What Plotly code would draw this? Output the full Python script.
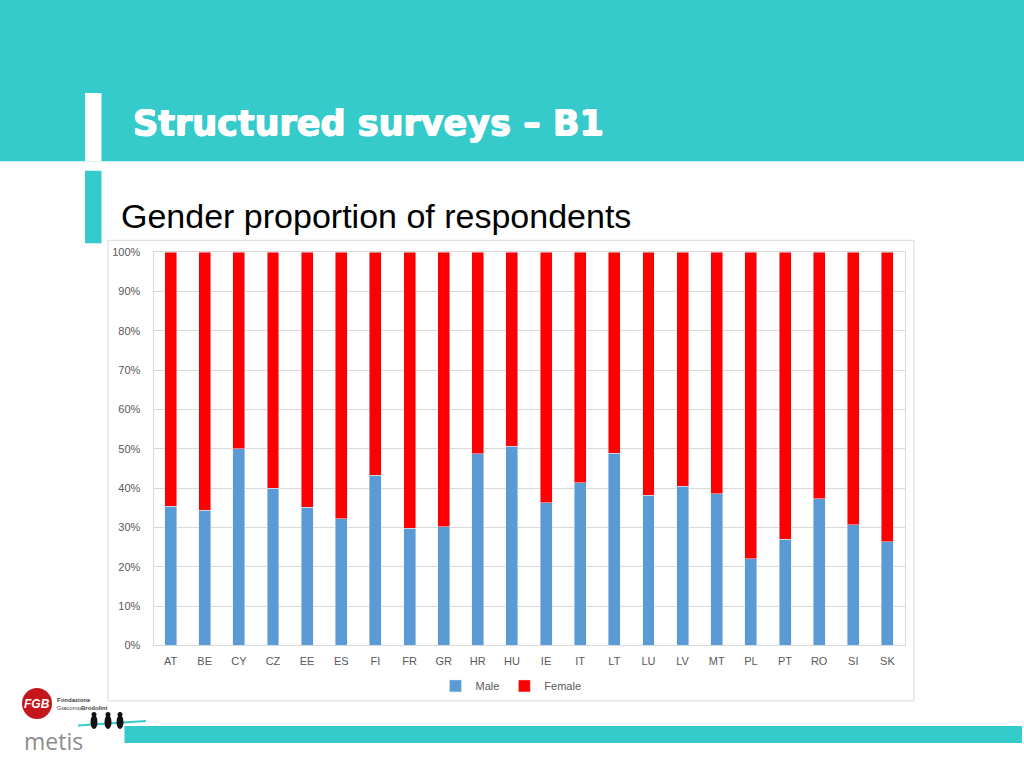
import plotly.graph_objects as go

countries = ["AT", "BE", "CY", "CZ", "EE", "ES", "FI", "FR", "GR", "HR", "HU",
             "IE", "IT", "LT", "LU", "LV", "MT", "PL", "PT", "RO", "SI", "SK"]
male = [0.353, 0.343, 0.500, 0.400, 0.351, 0.322, 0.433, 0.298, 0.301, 0.487, 0.506,
        0.362, 0.413, 0.488, 0.382, 0.405, 0.385, 0.220, 0.270, 0.373, 0.307, 0.263]
female = [round(1 - m, 3) for m in male]

W, H = 1024, 781
REF_W, REF_H = 1024, 768
def px(x):
    return x / REF_W
def py(y):
    return 1 - y / REF_H

TEAL = "#35CBCB"
BLUE = "#5B9BD5"
RED = "#FF0000"

fig = go.Figure()
fig.add_trace(go.Bar(x=countries, y=male, name="Male", marker_color=BLUE))
fig.add_trace(go.Bar(x=countries, y=female, name="Female", marker_color=RED))

shapes = [
    dict(type="rect", xref="paper", yref="paper", x0=0, x1=1, y0=py(161), y1=1,
         fillcolor=TEAL, line_width=0, layer="below"),
    dict(type="rect", xref="paper", yref="paper", x0=px(85), x1=px(101.5), y0=py(161), y1=py(93),
         fillcolor="white", line_width=0, layer="below"),
    dict(type="rect", xref="paper", yref="paper", x0=px(85), x1=px(101.5), y0=py(243), y1=py(170.5),
         fillcolor=TEAL, line_width=0, layer="below"),
    dict(type="rect", xref="paper", yref="paper", x0=px(108), x1=px(914), y0=py(700), y1=py(240),
         fillcolor="white", line=dict(color="#D9D9D9", width=1), layer="below"),
    dict(type="rect", xref="paper", yref="paper", x0=px(124.5), x1=px(1022), y0=py(742), y1=py(725),
         fillcolor=TEAL, line_width=0, layer="below"),
    dict(type="circle", xref="paper", yref="paper", x0=px(22), x1=px(52), y0=py(718), y1=py(687),
         fillcolor="#C4161C", line_width=0, layer="above"),
    dict(type="line", xref="paper", yref="paper", x0=px(78), x1=px(146), y0=py(724.5), y1=py(720),
         line=dict(color=TEAL, width=2), layer="above"),
]
for bx in [94, 108, 120]:
    shapes.append(dict(type="circle", xref="paper", yref="paper",
                       x0=px(bx - 3.5), x1=px(bx + 3.5), y0=py(728), y1=py(714),
                       fillcolor="#111111", line_width=0, layer="above"))
    shapes.append(dict(type="circle", xref="paper", yref="paper",
                       x0=px(bx - 2.5), x1=px(bx + 2.5), y0=py(716), y1=py(711),
                       fillcolor="#111111", line_width=0, layer="above"))

annotations = [
    dict(text="Structured surveys – B1", xref="paper", yref="paper", x=px(131), y=py(123),
         xanchor="left", yanchor="middle", showarrow=False,
         font=dict(family="DejaVu Sans", size=35, color="white", weight="bold",
                   shadow="0.7px 0 0 white, -0.7px 0 0 white, 0 0.5px 0 white")),
    dict(text="Gender proportion of respondents", xref="paper", yref="paper", x=px(119), y=py(216),
         xanchor="left", yanchor="middle", showarrow=False,
         font=dict(family="Liberation Sans, Arial", size=34, color="black")),
    dict(text="<b><i>FGB</i></b>", xref="paper", yref="paper", x=px(37), y=py(703),
         xanchor="center", yanchor="middle", showarrow=False,
         font=dict(family="Liberation Sans", size=12, color="white")),
    dict(text="<b>Fondazione</b><br>Giacomo<b>Brodolini</b>", xref="paper", yref="paper", x=px(55), y=py(703),
         xanchor="left", yanchor="middle", showarrow=False, align="left",
         font=dict(family="Liberation Sans", size=6, color="#444444")),
    dict(text="metis", xref="paper", yref="paper", x=px(22), y=py(740),
         xanchor="left", yanchor="middle", showarrow=False,
         font=dict(family="Open Sans", size=23, color="#8C8C8C")),
]

fig.update_layout(
    width=W, height=H,
    margin=dict(l=0, r=0, t=0, b=0),
    paper_bgcolor="white",
    plot_bgcolor="rgba(0,0,0,0)",
    barmode="stack",
    bargap=0.65,
    shapes=shapes,
    annotations=annotations,
    showlegend=True,
    legend=dict(orientation="h", x=px(511), xanchor="center", y=py(685), yanchor="middle",
                font=dict(family="Liberation Sans", size=11, color="#595959"),
                bgcolor="rgba(0,0,0,0)", itemwidth=30, traceorder="normal"),
    xaxis=dict(domain=[px(153.5), px(904.5)], type="category", range=[-0.5, 21.5],
               showline=True, linecolor="#D9D9D9", mirror=True, ticks="",
               ticklabelstandoff=5,
               tickfont=dict(family="Liberation Sans", size=11, color="#595959"),
               showgrid=False, fixedrange=True),
    yaxis=dict(domain=[py(644.5), py(251.7)], range=[0, 1], dtick=0.1, tickformat=".0%",
               showgrid=True, gridcolor="#D9D9D9", gridwidth=1,
               showline=True, linecolor="#D9D9D9", mirror=True, ticks="",
               zeroline=False, ticklabelstandoff=10,
               tickfont=dict(family="Liberation Sans", size=11, color="#595959"),
               fixedrange=True),
)

post = ("var gd=document.getElementById('{plot_id}');"
        "gd.style.position='fixed';gd.style.top='-6px';gd.style.left='0px';"
        "document.body.style.margin='0';document.body.style.overflow='hidden';"
        "document.documentElement.style.overflow='hidden';")
fig.write_html("out.html", config={"displayModeBar": False}, post_script=post)
